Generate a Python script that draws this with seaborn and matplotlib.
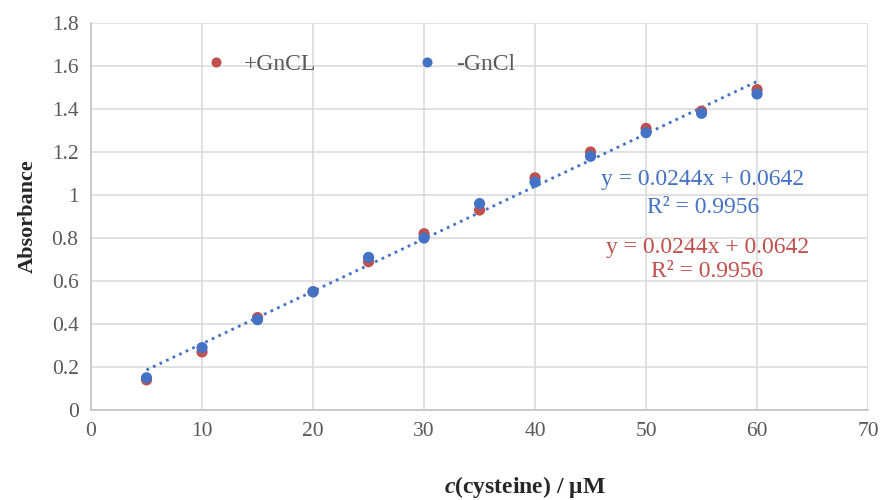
import numpy as np
import pandas as pd
import matplotlib.pyplot as plt
import seaborn as sns

# Chart data
conc = [5, 10, 15, 20, 25, 30, 35, 40, 45, 50, 55, 60]
abs_plus = [0.14, 0.27, 0.43, 0.55, 0.69, 0.82, 0.93, 1.08, 1.20, 1.31, 1.39, 1.49]
abs_minus = [0.15, 0.29, 0.42, 0.55, 0.71, 0.80, 0.96, 1.06, 1.18, 1.29, 1.38, 1.47]
series_names = ["+GnCL", "-GnCl"]
slope = 0.0244
intercept = 0.0642
r2 = 0.9956
x_ticks = [0, 10, 20, 30, 40, 50, 60, 70]
y_ticks = [0, 0.2, 0.4, 0.6, 0.8, 1, 1.2, 1.4, 1.6, 1.8]
y_tick_labels = ["0", "0.2", "0.4", "0.6", "0.8", "1", "1.2", "1.4", "1.6", "1.8"]

red = "#C0504D"
blue = "#4472C4"

sns.set_style("white")
plt.rcParams['font.family'] = ['Liberation Serif', 'DejaVu Serif']
plt.rcParams['mathtext.fontset'] = 'custom'
plt.rcParams['mathtext.it'] = 'Liberation Serif:italic:bold'
plt.rcParams['mathtext.rm'] = 'Liberation Serif:bold'

df = pd.DataFrame({
    'conc': conc + conc,
    'absorbance': abs_plus + abs_minus,
    'series': [series_names[0]] * len(conc) + [series_names[1]] * len(conc),
})

fig = plt.figure(figsize=(8.82, 5), dpi=100)
ax = fig.add_axes([0.1032, 0.18, 0.881, 0.774])

# Trend line (same fit for both series)
xs = np.array([min(conc), max(conc)])
ax.plot(xs, slope * xs + intercept, linestyle=(0, (1, 1.6)), color=blue,
        linewidth=2.0, zorder=2)

sns.scatterplot(data=df, x='conc', y='absorbance', hue='series',
                palette={series_names[0]: red, series_names[1]: blue},
                s=65, edgecolor='none', ax=ax, zorder=3)

ax.set_xlim(0, 70)
ax.set_ylim(0, 1.8)
ax.set_xticks(x_ticks)
ax.set_yticks(y_ticks)
ax.set_yticklabels(y_tick_labels)
ax.tick_params(axis='both', length=0, labelsize=15.5, labelcolor='#595959', pad=9)
ax.grid(True, color='#D9D9D9', linewidth=1.1)
ax.set_axisbelow(True)
for side in ['top', 'right']:
    ax.spines[side].set_visible(False)
for side in ['left', 'bottom']:
    ax.spines[side].set_color('#BFBFBF')
    ax.spines[side].set_linewidth(1.1)

ax.set_xlabel('')
ax.set_ylabel('Absorbance', fontsize=16, fontweight='bold', labelpad=10)
fig.text(0.595, 0.027, r'$\mathit{c}$(cysteine) / μM', fontsize=17,
         fontweight='bold', ha='center', va='center')

leg = ax.legend(ncol=2, loc='center left', bbox_to_anchor=(0.118, 0.894),
                frameon=False, fontsize=17, handlelength=1.0, handletextpad=0.7,
                columnspacing=4.2, markerscale=0.9, labelcolor='#595959')

ax.text(55.1, 1.070, f'y = {slope}x + {intercept}', color=blue, fontsize=17,
        ha='center', va='center')
ax.text(55.1, 0.944, f'R² = {r2}', color=blue, fontsize=17,
        ha='center', va='center')
ax.text(55.5, 0.758, f'y = {slope}x + {intercept}', color=red, fontsize=17,
        ha='center', va='center')
ax.text(55.5, 0.642, f'R² = {r2}', color=red, fontsize=17,
        ha='center', va='center')

plt.savefig('out.png', dpi=100)
plt.close()
